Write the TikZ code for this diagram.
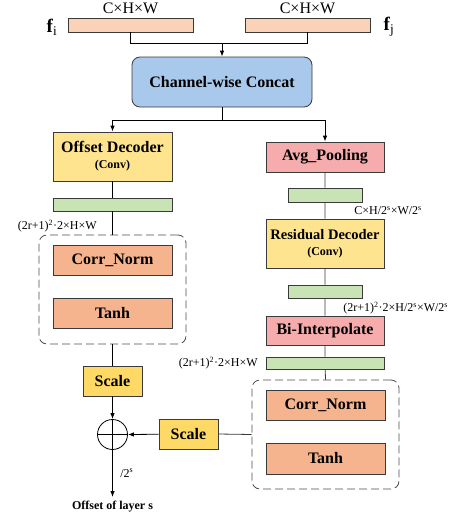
\documentclass[tikz,border=0pt]{standalone}
\usepackage{fontspec}
\setmainfont{Liberation Serif}
\usetikzlibrary{arrows.meta, positioning}
\definecolor{featorange}{HTML}{F9D2B8}
\definecolor{catblue}{HTML}{A8C8EC}
\definecolor{decyellow}{HTML}{FFE490}
\definecolor{poolpink}{HTML}{F6ACAC}
\definecolor{normorange}{HTML}{F5B48E}
\definecolor{scaleyellow}{HTML}{FFD966}
\definecolor{mapgreen}{HTML}{C8E4B4}
\definecolor{dkline}{HTML}{3A3A3A}

\begin{document}
\begin{tikzpicture}[x=1pt, y=-1pt, >={Latex[length=6pt, width=4.5pt]}, line width=0.8pt,
  blockbox/.style={draw=dkline, inner sep=0pt, align=center,
    font=\bfseries\fontsize{16}{17}\selectfont},
  featbar/.style={draw=dkline, inner sep=0pt, fill=#1},
  dimtext/.style={font=\fontsize{12}{13}\selectfont, inner sep=1pt},
  groupbox/.style={draw=black!70, dash pattern=on 8pt off 4pt, rounded corners=8pt,
    inner sep=0pt, minimum width=147pt, minimum height=109pt}]

% canvas
\useasboundingbox (0,0) rectangle (456,514);

% --- inputs ---
\node[featbar=featorange, minimum width=125pt, minimum height=14pt] (fi) at (130.5,25) {};
\node[featbar=featorange, minimum width=125pt, minimum height=14pt] (fj) at (307.5,25) {};
\node[font=\fontsize{16}{17}\selectfont, above=0pt of fi] (fidim) {C×H×W};
\node[font=\fontsize{16}{17}\selectfont, above=0pt of fj] (fjdim) {C×H×W};
\node[font=\fontsize{19}{20}\selectfont, anchor=east] (filab) at (61,27) {\textbf{f}\textsubscript{i}};
\node[font=\fontsize{19}{20}\selectfont, anchor=west] (fjlab) at (380,27) {\textbf{f}\textsubscript{j}};

% --- concat ---
\node[blockbox, fill=catblue, rounded corners=8pt, minimum width=180pt, minimum height=50pt]
  (concat) at (222,82) {Channel-wise Concat};
\draw[->] (fi.south) |- (222,43) -- (concat.north);
\draw (fj.south) |- (222,43);

% --- left branch ---
\node[blockbox, fill=decyellow, minimum width=119pt, minimum height=49pt] (offdec) at (112.5,156.5)
  {Offset Decoder\\[-1pt]{\fontsize{12}{13}\selectfont (Conv)}};
\node[featbar=mapgreen, minimum width=119pt, minimum height=13pt] (mapL) at (112.5,204.5) {};
\node[dimtext, anchor=east] (dimL) at (98,226) {(2r+1)\textsuperscript{2}·2×H×W};
\node[groupbox] (grpL) at (112.5,289.5) {};
\node[blockbox, fill=normorange, minimum width=119pt, minimum height=30pt] (normL) at (112.5,260) {Corr\_Norm};
\node[blockbox, fill=normorange, minimum width=119pt, minimum height=30pt] (tanhL) at (112.5,313) {Tanh};
\node[blockbox, fill=scaleyellow, minimum width=59pt, minimum height=30pt] (scaleL) at (112.5,381) {Scale};

% --- right branch ---
\node[blockbox, fill=poolpink, minimum width=118pt, minimum height=30pt] (pool) at (325,157) {Avg\_Pooling};
\node[featbar=mapgreen, minimum width=74pt, minimum height=14pt] (mapR1) at (325,195) {};
\node[dimtext, anchor=west] (dimR1) at (353,211) {C×H/2\textsuperscript{s}×W/2\textsuperscript{s}};
\node[blockbox, fill=decyellow, minimum width=118pt, minimum height=49pt,
  font=\bfseries\fontsize{14.5}{16}\selectfont] (resdec) at (325,243.5)
  {Residual Decoder\\[0pt]{\fontsize{12}{13}\selectfont (Conv)}};
\node[featbar=mapgreen, minimum width=74pt, minimum height=13pt] (mapR2) at (325,291.5) {};
\node[dimtext, anchor=west] (dimR2) at (342,308) {(2r+1)\textsuperscript{2}·2×H/2\textsuperscript{s}×W/2\textsuperscript{s}};
\node[blockbox, fill=poolpink, minimum width=118pt, minimum height=29pt] (interp) at (325,330.5) {Bi-Interpolate};
\node[featbar=mapgreen, minimum width=118pt, minimum height=12pt] (mapR3) at (325,363) {};
\node[dimtext, anchor=east] (dimR3) at (259,363) {(2r+1)\textsuperscript{2}·2×H×W};
\node[groupbox] (grpR) at (325.5,434.5) {};
\node[blockbox, fill=normorange, minimum width=119pt, minimum height=30pt] (normR) at (325.5,405) {Corr\_Norm};
\node[blockbox, fill=normorange, minimum width=119pt, minimum height=31pt] (tanhR) at (325.5,458.5) {Tanh};
\node[blockbox, fill=scaleyellow, minimum width=59pt, minimum height=30pt] (scaleR) at (188.5,434) {Scale};

% --- merge ---
\node[draw, circle, minimum size=30pt, inner sep=0pt] (sum) at (112.5,434.5) {};
\draw (sum.north) -- (sum.south) (sum.west) -- (sum.east);
\coordinate (out) at (112.5,497);
\node[font=\bfseries\fontsize{12}{13}\selectfont, below=0pt of out] (outlab) {Offset of layer s};
\node[dimtext, anchor=west] (divlab) at (119,473) {/2\textsuperscript{s}};

% --- connectors ---
\draw[->] (concat.south) -- (222,120) -| (offdec.north);
\draw[->] (222,120) -| (pool.north);
\draw (offdec) -- (mapL) (mapL) -- (grpL.north) (grpL.south) -- (scaleL.north);
\draw[->] (scaleL) -- (sum.north);
\draw[->] (scaleR) -- (sum.east);
\draw[->] (sum.south) -- (out);
\draw[dkline] (pool) -- (mapR1) (mapR1) -- (resdec) (resdec) -- (mapR2) (mapR2) -- (interp)
  (interp) -- (mapR3) (mapR3) -- (grpR.north);
\draw[dkline] (grpR.west) -- (scaleR.east);

\end{tikzpicture}
\end{document}
